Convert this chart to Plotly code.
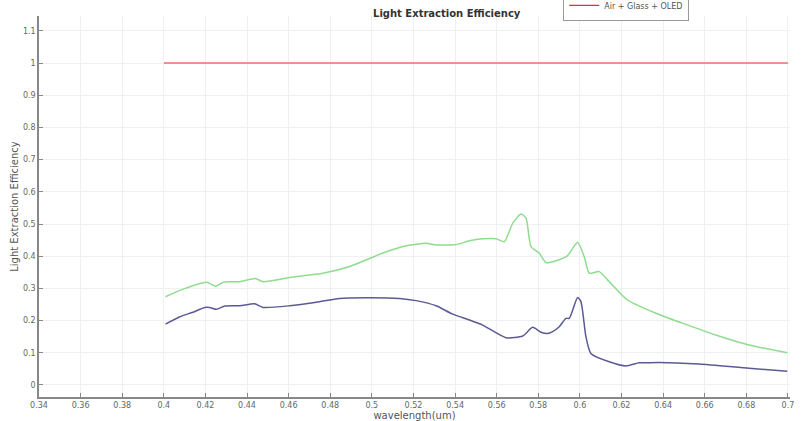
import plotly.graph_objects as go

green_x = [0.4008, 0.409, 0.4205, 0.425, 0.429, 0.4365, 0.444, 0.4477, 0.4605, 0.4765, 0.489, 0.505, 0.515,
           0.526, 0.531, 0.5405, 0.5469, 0.5533, 0.5597, 0.5637, 0.5677, 0.5717, 0.5741, 0.5765, 0.5805,
           0.5837, 0.5885, 0.5941, 0.5989, 0.6021, 0.6045, 0.6093, 0.6141, 0.6229, 0.6365, 0.6493, 0.6653,
           0.6813, 0.6997]
green_y = [0.274, 0.297, 0.319, 0.307, 0.32, 0.321, 0.331, 0.321, 0.334, 0.347, 0.367, 0.409, 0.43,
           0.44, 0.435, 0.436, 0.448, 0.454, 0.454, 0.445, 0.502, 0.531, 0.518, 0.43, 0.409,
           0.38, 0.386, 0.402, 0.443, 0.398, 0.347, 0.352, 0.321, 0.264, 0.223, 0.192, 0.155,
           0.124, 0.1]

purple_x = [0.4008, 0.4077, 0.414, 0.4197, 0.422, 0.4253, 0.4293, 0.4365, 0.4437, 0.4477, 0.4605, 0.4733,
            0.4845, 0.4973, 0.5133, 0.5213, 0.5309, 0.5389, 0.5469, 0.5533, 0.5645, 0.5725, 0.5773, 0.5813,
            0.5845, 0.5869, 0.5901, 0.5933, 0.5949, 0.5989, 0.6005, 0.6029, 0.6053, 0.6141, 0.6221, 0.6285,
            0.6317, 0.6381, 0.6573, 0.6813, 0.6997]
purple_y = [0.189, 0.212, 0.226, 0.241, 0.241, 0.235, 0.245, 0.246, 0.252, 0.241, 0.246, 0.257,
            0.269, 0.271, 0.269, 0.262, 0.246, 0.22, 0.202, 0.186, 0.147, 0.152, 0.179, 0.164,
            0.16, 0.166, 0.181, 0.207, 0.207, 0.272, 0.259, 0.15, 0.098, 0.072, 0.059, 0.069,
            0.069, 0.07, 0.065, 0.052, 0.043]

red_x = [0.4, 0.7]
red_y = [1.0, 1.0]

names = ["Air + OLED", "Glass + OLED", "Air + Glass + OLED"]

x_ticks = [0.34, 0.36, 0.38, 0.4, 0.42, 0.44, 0.46, 0.48, 0.5, 0.52, 0.54, 0.56, 0.58, 0.6, 0.62, 0.64, 0.66, 0.68, 0.7]
x_labels = ["0.34", "0.36", "0.38", "0.4", "0.42", "0.44", "0.46", "0.48", "0.5", "0.52", "0.54", "0.56", "0.58", "0.6", "0.62", "0.64", "0.66", "0.68", "0.7"]
y_ticks = [0, 0.1, 0.2, 0.3, 0.4, 0.5, 0.6, 0.7, 0.8, 0.9, 1, 1.1]
y_labels = ["0", "0.1", "0.2", "0.3", "0.4", "0.5", "0.6", "0.7", "0.8", "0.9", "1", "1.1"]

fig = go.Figure()
fig.add_trace(go.Scatter(x=purple_x, y=purple_y, mode="lines", name=names[0], showlegend=False,
                         line=dict(color="#5c5a96", width=1.5, shape="spline", smoothing=0.6)))
fig.add_trace(go.Scatter(x=green_x, y=green_y, mode="lines", name=names[1], showlegend=False,
                         line=dict(color="#8fdc8f", width=1.5, shape="spline", smoothing=0.6)))
fig.add_trace(go.Scatter(x=red_x, y=red_y, mode="lines", name=names[2],
                         line=dict(color="#e03030", width=1.2)))

axis_font = dict(family="DejaVu Sans", size=8, color="#666666")
fig.update_layout(
    width=802, height=421,
    margin=dict(l=39, r=12, t=16, b=24, autoexpand=False),
    paper_bgcolor="white", plot_bgcolor="white",
    title=dict(text="<b>Light Extraction Efficiency</b>", x=0.557, xanchor="center", y=0.967, yanchor="middle",
               font=dict(family="DejaVu Sans", size=10, color="#333333")),
    font=dict(family="DejaVu Sans"),
    showlegend=True,
    legend=dict(x=0.698, xanchor="left", y=0.987, yanchor="bottom", bgcolor="white",
                bordercolor="#999999", borderwidth=1, font=dict(size=8, color="#555555"),
                itemwidth=30, tracegroupgap=0),
    xaxis=dict(range=[0.34, 0.701], tickvals=x_ticks, ticktext=x_labels, tickfont=axis_font,
               showgrid=True, gridcolor="#f0f0f0", gridwidth=1, zeroline=False,
               showline=True, linecolor="#888888", linewidth=1.5,
               ticks="inside", ticklen=4, tickcolor="#888888",
               title=dict(text="wavelength(um)", font=dict(size=10, color="#555555"), standoff=0)),
    yaxis=dict(range=[-0.0373, 1.146], tickvals=y_ticks, ticktext=y_labels, tickfont=axis_font,
               showgrid=True, gridcolor="#f0f0f0", gridwidth=1, zeroline=False,
               showline=True, linecolor="#888888", linewidth=1.5,
               ticks="inside", ticklen=4, tickcolor="#888888",
               title=dict(text="Light Extraction Efficiency", font=dict(size=10, color="#555555"), standoff=2)),
)

fig.write_html("out.html", config={"displayModeBar": False},
               post_script="document.body.style.margin='0';")
